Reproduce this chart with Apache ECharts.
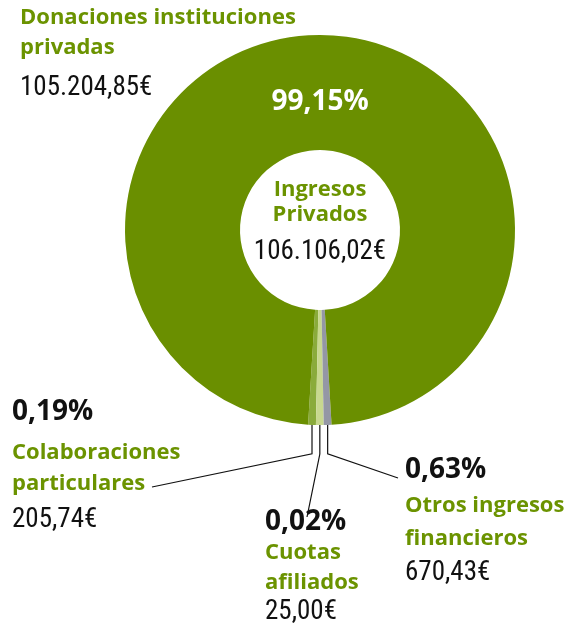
<!DOCTYPE html>
<html>
<head>
<meta charset="utf-8">
<script src="https://cdn.jsdelivr.net/npm/echarts@6/dist/echarts.min.js"></script>
<style>
  html, body { margin: 0; padding: 0; background: #fff; }
  #chart { width: 580px; height: 633px; }
</style>
</head>
<body>
<div id="chart"></div>
<script>
// datos: ingresos privados
const categories = ["Colaboraciones particulares", "Cuotas afiliados", "Otros ingresos financieros", "Donaciones instituciones privadas"];
const values = [205.74, 25.0, 670.43, 105204.85];
const centerTitle = ["Ingresos", "Privados"];

const sliceColors = ["#8aab3b", "#c8d88f", "#9497a5", "#6a8f00"];
const GREEN = "#6b9300";
const NUM_FONT = '"Roboto Condensed", "DejaVu Sans Condensed", sans-serif';
const TXT_FONT = '"Open Sans", Lato, sans-serif';

// caja de cada etiqueta: esquina sup. izq., alturas de linea (pct, nombre, valor), fin de la guia
const labelBoxes = [
  { x: 12, y: 388, lh: [49, 31, 43], end: [152, 487] },
  { x: 265, y: 506, lh: [32, 30, 28], end: [307, 517] },
  { x: 405, y: 452, lh: [37, 33, 37], end: [398, 478] },
  { x: 20, y: 3, lh: [0, 30, 50], end: null },
];

const total = values.reduce((a, b) => a + b, 0);

function fmtEuro(v) {
  const parts = v.toFixed(2).split(".");
  return parts[0].replace(/\B(?=(\d{3})+(?!\d))/g, ".") + "," + parts[1] + "€";
}
function fmtPct(v) {
  return (v / total * 100).toFixed(2).replace(".", ",") + "%";
}
function nameLines(name) {
  const i = name.lastIndexOf(" ");
  return [name.slice(0, i), name.slice(i + 1)];
}

const seriesData = categories.map((name, i) => {
  const box = labelBoxes[i];
  return {
    name: name,
    value: values[i],
    itemStyle: { color: sliceColors[i] },
    label: {
      rich: {
        p: { lineHeight: box.lh[0] },
        n: { lineHeight: box.lh[1] },
        v: { lineHeight: box.lh[2] },
      },
    },
    labelLine: { show: box.end != null },
  };
});

const chart = echarts.init(document.getElementById("chart"));

const option = {
  animation: false,
  graphic: [
    {
      type: "text",
      x: 320,
      y: 177,
      silent: true,
      style: {
        text: "{t|" + centerTitle[0] + "}\n{t|" + centerTitle[1] + "}\n{v|" + fmtEuro(total) + "}",
        align: "center",
        verticalAlign: "top",
        rich: {
          t: { fontFamily: TXT_FONT, fontWeight: "bold", fontSize: 22, fill: GREEN, lineHeight: 25, align: "center" },
          v: { fontFamily: NUM_FONT, fontSize: 27, fill: "#111", lineHeight: 51, align: "center" },
        },
      },
    },
  ],
  series: [
    {
      type: "pie",
      center: [320, 230],
      radius: [80, 195],
      clockwise: false,
      startAngle: -93.5,
      minAngle: 2.3,
      avoidLabelOverlap: false,
      silent: true,
      itemStyle: { borderWidth: 0 },
      label: {
        show: true,
        position: "outside",
        formatter: (p) => {
          const nl = nameLines(p.name).map((s) => "{n|" + s + "}").join("\n");
          const v = "{v|" + fmtEuro(p.value) + "}";
          if (p.dataIndex === 3) return nl + "\n" + v;
          return "{p|" + fmtPct(p.value) + "}\n" + nl + "\n" + v;
        },
        rich: {
          p: { fontFamily: TXT_FONT, fontWeight: "bold", fontSize: 28, color: "#111" },
          n: { fontFamily: TXT_FONT, fontWeight: "bold", fontSize: 22, color: GREEN },
          v: { fontFamily: NUM_FONT, fontSize: 27, color: "#111" },
        },
      },
      labelLine: {
        show: true,
        smooth: false,
        lineStyle: { color: "#111", width: 1.2 },
      },
      labelLayout: (params) => {
        const box = labelBoxes[params.dataIndex];
        const out = { x: box.x, y: box.y, align: "left", verticalAlign: "top" };
        if (box.end) {
          const pts = params.labelLinePoints;
          const ax = pts ? pts[0][0] : params.rect.x + params.rect.width / 2;
          const ay = pts ? pts[0][1] : params.rect.y + params.rect.height;
          out.labelLinePoints = [[ax, ay - 8], [ax, ay + 29], box.end];
        }
        return out;
      },
      data: seriesData,
    },
    {
      // capa transparente solo para el porcentaje del sector grande
      type: "pie",
      center: [320, 230],
      radius: [80, 195],
      clockwise: false,
      startAngle: -93.5,
      minAngle: 2.3,
      silent: true,
      itemStyle: { color: "transparent" },
      label: {
        show: true,
        position: "inside",
        formatter: (p) => (p.dataIndex === 3 ? fmtPct(p.value) : ""),
        fontFamily: TXT_FONT,
        fontWeight: "bold",
        fontSize: 28,
        color: "#fff",
      },
      labelLine: { show: false },
      labelLayout: { dy: 13 },
      data: values.map((v, i) => ({ name: categories[i], value: v })),
    },
  ],
};

chart.setOption(option);
</script>
</body>
</html>
